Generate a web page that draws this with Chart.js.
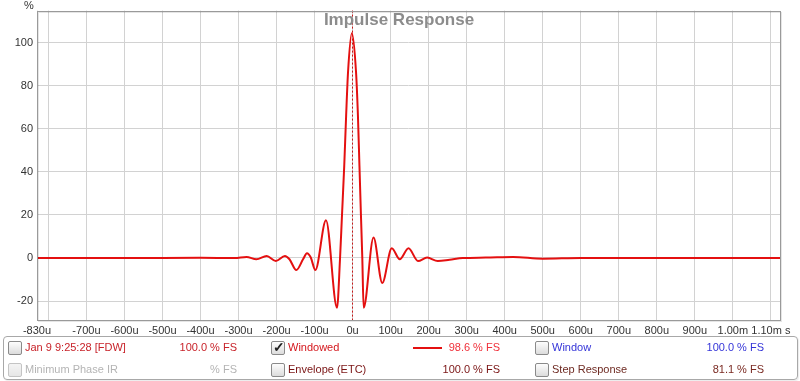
<!DOCTYPE html>
<html>
<head>
<meta charset="utf-8">
<script src="https://cdn.jsdelivr.net/npm/chart.js@4.4.1/dist/chart.umd.min.js"></script>
<style>
  html, body { margin: 0; padding: 0; background: #fff; }
  body { width: 800px; height: 381px; position: relative; overflow: hidden; font-family: "Liberation Sans", Arial, sans-serif; }
  #wrap { position: absolute; left: 0; top: 0; width: 800px; height: 381px; }
  .abs { position: absolute; white-space: nowrap; }
  #title { left: 0; width: 798px; top: 10px; text-align: center; font-weight: bold; font-size: 17px; color: #8c8c8c; }
  #unit { left: 24px; top: -1px; font-size: 11px; color: #333; }
  #legend { position: absolute; left: 3px; top: 336px; width: 793px; height: 42px; border: 1px solid #a8a8a8; border-radius: 4px; box-shadow: 1px 1px 1px rgba(0,0,0,0.08); }
  .row { font-size: 11px; }
  .cb { position: absolute; width: 12px; height: 12px; border: 1px solid #8a8a8a; border-radius: 2px; background: linear-gradient(#fdfdfd, #dcdcdc); }
  .cb.dis { border-color: #c4c4c4; background: linear-gradient(#f4f4f4, #e6e6e6); }
  .chk { position: absolute; left: 1px; top: -3px; font-size: 14px; font-weight: bold; color: #222; }
  .val { text-align: right; }
</style>
</head>
<body>
<div id="wrap"><canvas id="c" width="800" height="381"></canvas></div>
<div id="title" class="abs">Impulse Response</div>
<div id="unit" class="abs">%</div>
<div id="legend"></div>
<script>
// ---- data ----
const timeMicros = [-830, -600, -400, -310, -279, -253, -226, -202, -178, -166, -148, -130, -120, -110, -98, -70, -41, -33, -28, -22, -17, -12, -2, 9, 14, 18, 22, 25.5, 29, 55, 78, 103, 124, 147, 172, 196, 224, 255, 290, 350, 422, 500, 600, 800, 1124];
const windowedPct = [0, 0, 0.1, 0, 0.5, -0.6, 0.9, -1.4, 0.9, -0.6, -5.6, -0.5, 2.2, 0.2, -5.6, 17.5, -23.1, 0, 19.5, 42.8, 66.2, 86.4, 104.4, 86.4, 66.2, 42.8, 19.5, 0, -23.1, 9.5, -11.6, 4.5, -0.6, 4.5, -1.4, 0.2, -1.4, -0.8, 0, 0.2, 0.5, -0.3, 0, 0, 0];
const markerTime = [0];
const xTickValues = [-830, -800, -700, -600, -500, -400, -300, -200, -100, 0, 100, 200, 300, 400, 500, 600, 700, 800, 900, 1000, 1100];
const xTickLabels = ['-830u', '', '-700u', '-600u', '-500u', '-400u', '-300u', '-200u', '-100u', '0u', '100u', '200u', '300u', '400u', '500u', '600u', '700u', '800u', '900u', '1.00m', '1.10m s'];
const yTickValues = [-20, 0, 20, 40, 60, 80, 100];
const xRange = [-830, 1124];
const yRange = [-28.8, 114.9];

const legendRows = [
  [
    { box: 'empty', label: 'Jan 9 9:25:28 [FDW]', labelColor: '#c8232a', value: '100.0 % FS', valueColor: '#c8232a' },
    { box: 'checked', label: 'Windowed', labelColor: '#d4161c', line: '#e41010', value: '98.6 % FS', valueColor: '#f0303a' },
    { box: 'empty', label: 'Window', labelColor: '#3434d8', value: '100.0 % FS', valueColor: '#3434d8' }
  ],
  [
    { box: 'disabled', label: 'Minimum Phase IR', labelColor: '#b4b4b4', value: '% FS', valueColor: '#b4b4b4' },
    { box: 'empty', label: 'Envelope (ETC)', labelColor: '#7a1414', value: '100.0 % FS', valueColor: '#7a1414' },
    { box: 'empty', label: 'Step Response', labelColor: '#6e2a22', value: '81.1 % FS', valueColor: '#7a2a22' }
  ]
];

// ---- legend (HTML) ----
const legend = document.getElementById('legend');
const colX = [4, 267, 531];      // checkbox left (relative to legend box)
const valRight = [233, 496, 760];
const rowY = [11, 33];          // row center
legendRows.forEach((row, r) => {
  row.forEach((it, c) => {
    const cb = document.createElement('div');
    cb.className = 'cb' + (it.box === 'disabled' ? ' dis' : '');
    cb.style.left = colX[c] + 'px';
    cb.style.top = (rowY[r] - 7) + 'px';
    if (it.box === 'checked') {
      const ck = document.createElement('span');
      ck.className = 'chk';
      ck.textContent = '✓';
      cb.appendChild(ck);
    }
    legend.appendChild(cb);
    const lb = document.createElement('div');
    lb.className = 'abs row';
    lb.style.left = (colX[c] + 17) + 'px';
    lb.style.top = (rowY[r] - 7) + 'px';
    lb.style.color = it.labelColor;
    lb.textContent = it.label;
    legend.appendChild(lb);
    if (it.line) {
      const ln = document.createElement('div');
      ln.className = 'abs';
      ln.style.left = (colX[c] + 142) + 'px';
      ln.style.top = (rowY[r] - 1) + 'px';
      ln.style.width = '29px';
      ln.style.height = '2px';
      ln.style.background = it.line;
      legend.appendChild(ln);
    }
    const vl = document.createElement('div');
    vl.className = 'abs row val';
    vl.style.left = (valRight[c] - 120) + 'px';
    vl.style.width = '120px';
    vl.style.top = (rowY[r] - 7) + 'px';
    vl.style.color = it.valueColor;
    vl.textContent = it.value;
    legend.appendChild(vl);
  });
});

// ---- chart ----
const points = timeMicros.map((t, i) => ({ x: t, y: windowedPct[i] }));

const frameAndMarker = {
  id: 'frameAndMarker',
  beforeDatasetsDraw(chart) {
    const { ctx, chartArea: a, scales } = chart;
    ctx.save();
    ctx.strokeStyle = '#c81818';
    ctx.lineWidth = 1;
    ctx.setLineDash([2, 2]);
    markerTime.forEach(t => {
      const px = Math.round(scales.x.getPixelForValue(t)) - 0.5;
      ctx.beginPath();
      ctx.moveTo(px, a.top);
      ctx.lineTo(px, a.bottom);
      ctx.stroke();
    });
    ctx.restore();
  },
  afterDraw(chart) {
    const { ctx, chartArea: a } = chart;
    ctx.save();
    ctx.strokeStyle = 'rgba(0,0,0,0.10)';
    ctx.lineWidth = 1;
    ctx.strokeRect(Math.round(a.left) + 1.5, Math.round(a.top) + 1.5, Math.round(a.right - a.left), Math.round(a.bottom - a.top));
    ctx.strokeStyle = '#9a9a9a';
    ctx.strokeRect(Math.round(a.left) + 0.5, Math.round(a.top) + 0.5, Math.round(a.right - a.left), Math.round(a.bottom - a.top));
    ctx.restore();
  }
};

new Chart(document.getElementById('c'), {
  type: 'line',
  data: {
    datasets: [{
      label: 'Windowed',
      data: points,
      borderColor: '#e41010',
      borderWidth: 2,
      pointRadius: 0,
      fill: false,
      cubicInterpolationMode: 'monotone'
    }]
  },
  options: {
    responsive: false,
    animation: false,
    events: [],
    layout: { padding: { left: 0, right: 20, top: 10, bottom: 45 } },
    plugins: { legend: { display: false }, tooltip: { enabled: false }, title: { display: false } },
    scales: {
      x: {
        type: 'linear',
        min: xRange[0],
        max: xRange[1],
        afterBuildTicks(scale) { scale.ticks = xTickValues.map(v => ({ value: v })); },
        afterFit(scale) { scale.height = 16; },
        grid: { color: '#d2d2d2', drawTicks: false, lineWidth: 1 },
        border: { display: false },
        ticks: {
          autoSkip: false, maxRotation: 0, padding: 4,
          color: '#333', font: { family: 'Liberation Sans', size: 11 },
          callback(v) { const i = xTickValues.indexOf(v); return i >= 0 ? xTickLabels[i] : ''; }
        }
      },
      y: {
        type: 'linear',
        min: yRange[0],
        max: yRange[1],
        afterBuildTicks(scale) { scale.ticks = yTickValues.map(v => ({ value: v })); },
        afterFit(scale) { scale.width = 37; },
        grid: { color: '#d2d2d2', drawTicks: false, lineWidth: 1 },
        border: { display: false },
        ticks: { padding: 4, color: '#333', font: { family: 'Liberation Sans', size: 11 } }
      }
    }
  },
  plugins: [frameAndMarker]
});
</script>
</body>
</html>
